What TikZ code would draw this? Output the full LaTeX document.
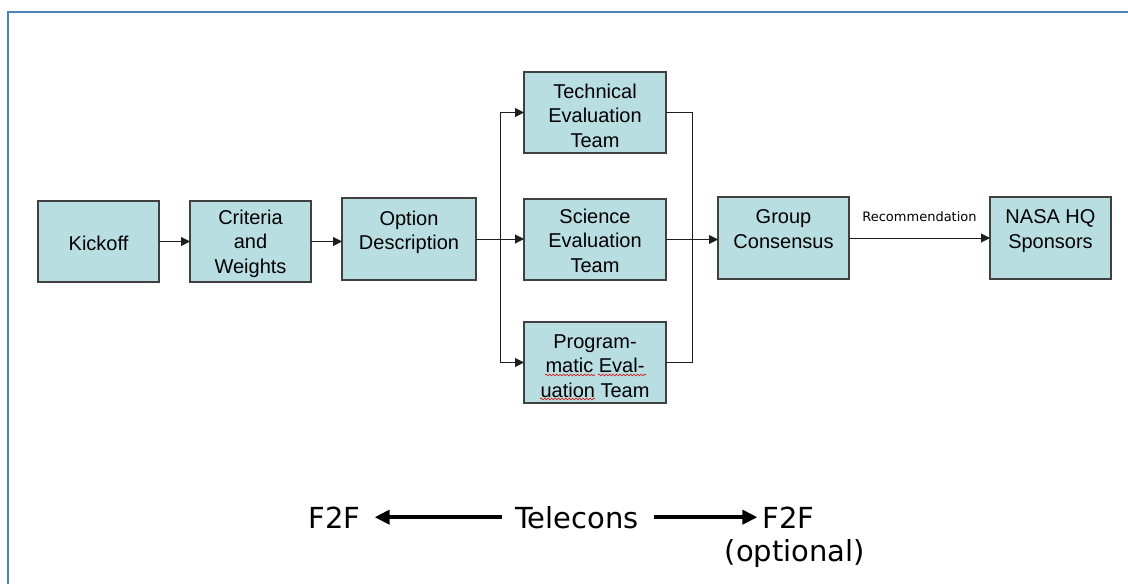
\documentclass[tikz,border=0pt]{standalone}
\usepackage{fontspec}
\setmainfont{Liberation Sans}
\newfontfamily\dejavu{DejaVu Sans}
\usetikzlibrary{arrows.meta,calc,decorations.pathmorphing}

\definecolor{boxfill}{RGB}{185,222,226}
\definecolor{boxline}{RGB}{64,64,64}
\definecolor{frameblue}{RGB}{79,129,189}
\definecolor{wire}{RGB}{30,30,30}

\begin{document}
\begin{tikzpicture}[x=1pt,y=-1pt,
  stagebox/.style={draw=boxline, fill=boxfill, line width=1.1pt, inner sep=0pt, outer sep=0pt},
  boxtext/.style={inner sep=0pt, align=center, font=\fontsize{20}{24.5}\selectfont},
  flow/.style={draw=wire, line width=1pt, -{Triangle[length=9pt,width=9pt]}},
  wireline/.style={draw=wire, line width=1pt},
  bigtext/.style={inner sep=0pt, font=\dejavu\fontsize{29}{34}\selectfont},
  bigarrow/.style={line width=3.8pt, -{Triangle[length=15pt,width=14pt]}},
  squiggle/.style={draw=red!85!black, line width=0.6pt, decorate,
    decoration={snake, amplitude=0.9pt, segment length=3.5pt}}
]
\useasboundingbox (0,0) rectangle (1128,584);

% page frame (top and left edges)
\draw[frameblue, line width=2.3pt] (8,584) -- (8,12) -- (1128,12);

% process boxes
\node[stagebox, minimum width=121pt, minimum height=81pt] (kick) at (98.5,241.5) {};
\node[stagebox, minimum width=121pt, minimum height=81pt] (crit) at (250.5,241.5) {};
\node[stagebox, minimum width=134pt, minimum height=82pt] (opt)  at (409,239) {};
\node[stagebox, minimum width=142pt, minimum height=81pt] (tech) at (595,112.5) {};
\node[stagebox, minimum width=142pt, minimum height=81pt] (sci)  at (595,239.5) {};
\node[stagebox, minimum width=142pt, minimum height=81pt] (prog) at (595,362.5) {};
\node[stagebox, minimum width=131pt, minimum height=82pt] (grp)  at (783.5,238) {};
\node[stagebox, minimum width=121pt, minimum height=82pt] (nasa) at (1050.5,238) {};

% box labels
\node[boxtext] (kick-t) at (98.5,245.1) {\strut Kickoff};
\node[boxtext] (crit-t) at (250.5,244) {\strut Criteria\\\strut and\\\strut Weights};
\node[boxtext] (opt-t)  at (409,232.4) {\strut Option\\\strut Description};
\node[boxtext] (tech-t) at (595,117.6) {\strut Technical\\\strut Evaluation\\\strut Team};
\node[boxtext] (sci-t)  at (595,242.6) {\strut Science\\\strut Evaluation\\\strut Team};
\node[boxtext] (prog-t) at (595,368) {\strut Program-\\\strut matic Eval-\\\strut uation Team};
\node[boxtext] (grp-t)  at (783.5,231) {\strut Group\\\strut Consensus};
\node[boxtext] (nasa-t) at (1050.5,231) {\strut NASA HQ\\\strut Sponsors};

% spell-check marks
\draw[squiggle] (545,375) -- (595,375);
\draw[squiggle] (598,375) -- (646,375);
\draw[squiggle] (540,399) -- (595,399);

% sequential flow
\draw[flow] (kick.east) -- (kick.east -| crit.west);
\draw[flow] (crit.east) -- (crit.east -| opt.west);
\draw[flow] (opt.east) -- (opt.east -| sci.west);

% fan-out to the three evaluation teams
\coordinate (br) at (500,239);
\draw[wireline] (br |- tech.west) -- (br |- prog.west);
\draw[flow] (br |- tech.west) -- (tech.west);
\draw[flow] (br |- prog.west) -- (prog.west);

% merge into group consensus
\coordinate (mg) at (692,239);
\draw[wireline] (tech.east) -- (tech.east -| mg) -- (prog.east -| mg) -- (prog.east);
\draw[flow] (sci.east) -- (sci.east -| grp.west);

% recommendation to sponsors
\draw[flow] (grp.east) -- node[above=15.5pt, inner sep=0pt,
  font=\dejavu\fontsize{13}{15}\selectfont] (rec) {Recommendation} (grp.east -| nasa.west);

% meeting format legend
\node[bigtext, anchor=base] (tele) at (577,528) {Telecons};
\node[bigtext, anchor=base] (f2fL) at (334.5,528) {F2F};
\node[bigtext, anchor=base] (f2fR) at (788.5,528) {F2F};
\node[bigtext, anchor=base] (optl) at (795,561.5) {(optional)};
\draw[bigarrow] ([xshift=-13pt]tele.west) -- ([xshift=14pt]tele.west -| f2fL.east);
\draw[bigarrow] ([xshift=15pt]tele.east) -- ([xshift=-5pt]tele.east -| f2fR.west);
\end{tikzpicture}
\end{document}
